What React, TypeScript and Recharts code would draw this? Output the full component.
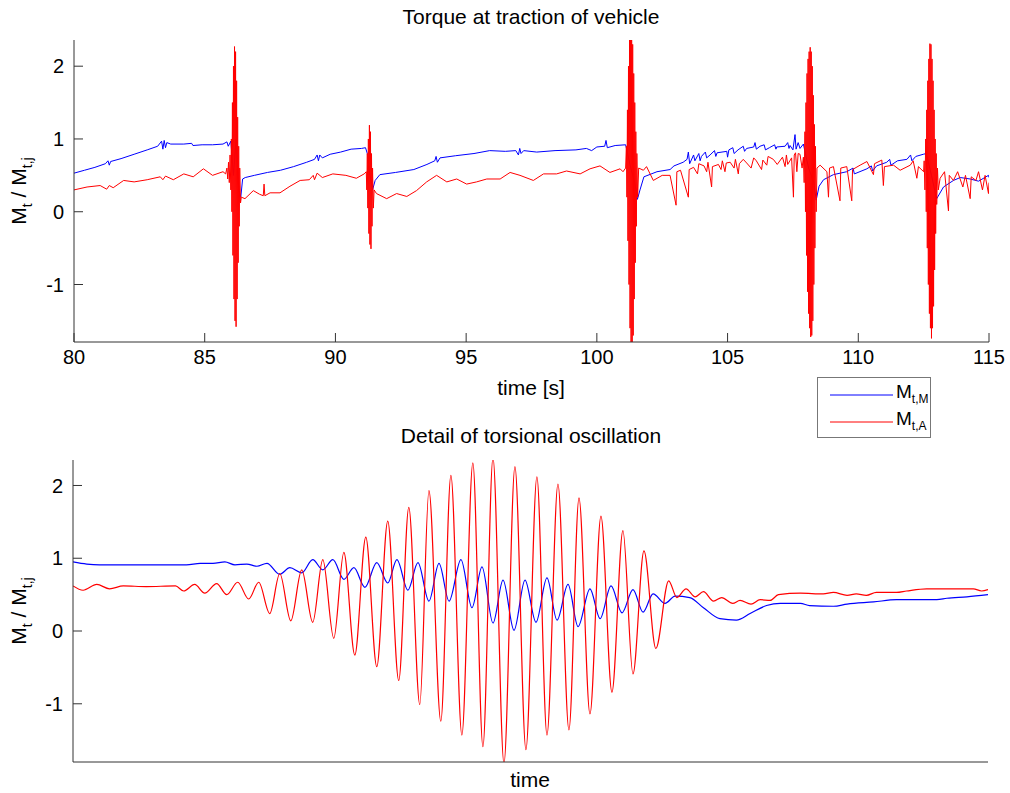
import React from 'react';
import { LineChart, Line, XAxis, YAxis } from 'recharts';

// [time in s, Mt / Mt,j]
const topMotor: [number, number][] = [
  [80.0, 0.53], [80.4, 0.57], [80.8, 0.61], [81.2, 0.66], [81.3, 0.7], [81.35, 0.64], [81.4, 0.69],
  [81.8, 0.73], [82.3, 0.79], [82.8, 0.85], [83.2, 0.9], [83.35, 0.97], [83.4, 0.86], [83.45, 0.98],
  [83.5, 0.88], [83.55, 0.95], [83.7, 0.93], [84.2, 0.93], [84.5, 0.94], [84.55, 0.91], [84.9, 0.92],
  [85.3, 0.92], [85.7, 0.93], [85.85, 0.96], [85.9, 0.9], [86.0, 0.97], [86.1, 0.5], [86.2, 1.0],
  [86.3, 0.3], [86.38, 0.2], [86.45, 0.45], [86.55, 0.47], [86.9, 0.5], [87.4, 0.54], [87.9, 0.57],
  [88.4, 0.62], [88.9, 0.68], [89.2, 0.72], [89.3, 0.78], [89.35, 0.7], [89.4, 0.78], [89.5, 0.74],
  [89.8, 0.79], [90.2, 0.82], [90.6, 0.86], [91.0, 0.87], [91.15, 0.88], [91.22, 0.8], [91.32, 0.5],
  [91.42, 0.3], [91.52, 0.43], [91.7, 0.51], [92.3, 0.54], [93.0, 0.58], [93.5, 0.65], [93.8, 0.7],
  [93.85, 0.76], [93.9, 0.68], [94.0, 0.74], [94.6, 0.77], [95.3, 0.8], [95.9, 0.84], [96.5, 0.83],
  [96.9, 0.84], [97.0, 0.78], [97.05, 0.87], [97.1, 0.8], [97.2, 0.84], [97.7, 0.82], [98.4, 0.84],
  [99.2, 0.85], [99.6, 0.87], [99.8, 0.84], [100.0, 0.89], [100.3, 0.9], [100.35, 0.98], [100.4, 0.88],
  [100.7, 0.91], [101.1, 0.92], [101.3, 0.6], [101.45, 0.4], [101.55, 0.17], [101.65, 0.3], [101.8, 0.48],
  [102.3, 0.55], [102.8, 0.58], [102.95, 0.63], [103.3, 0.68], [103.45, 0.72], [103.5, 0.82], [103.55, 0.66],
  [103.7, 0.78], [103.75, 0.7], [103.9, 0.8], [103.95, 0.7], [104.0, 0.76], [104.15, 0.82], [104.2, 0.74],
  [104.33, 0.78], [104.5, 0.84], [104.55, 0.76], [104.6, 0.81], [104.97, 0.83], [105.0, 0.75], [105.05, 0.85],
  [105.2, 0.88], [105.25, 0.8], [105.4, 0.85], [105.6, 0.9], [105.65, 0.83], [105.73, 0.87], [106.0, 0.89],
  [106.05, 0.95], [106.1, 0.86], [106.24, 0.9], [106.4, 0.92], [106.45, 0.85], [106.6, 0.88], [106.8, 0.92],
  [106.85, 0.86], [106.88, 0.89], [107.2, 0.9], [107.3, 0.95], [107.35, 0.87], [107.39, 0.91], [107.5, 0.85],
  [107.58, 1.06], [107.62, 0.86], [107.7, 0.95], [107.77, 0.87], [107.9, 0.93], [108.1, 0.6], [108.3, 0.4],
  [108.39, 0.16], [108.5, 0.35], [108.67, 0.44], [109.05, 0.51], [109.56, 0.55], [109.8, 0.6], [109.85, 0.52],
  [110.33, 0.59], [110.5, 0.63], [110.55, 0.56], [110.7, 0.63], [111.09, 0.68], [111.2, 0.72], [111.25, 0.64],
  [111.5, 0.7], [111.86, 0.72], [112.0, 0.78], [112.05, 0.7], [112.2, 0.76], [112.49, 0.79], [112.6, 0.8],
  [112.8, 0.5], [112.95, 0.25], [113.0, 0.18], [113.26, 0.34], [113.64, 0.43], [113.9, 0.47], [114.28, 0.45],
  [114.6, 0.42], [114.98, 0.5], [115.0, 0.47],
];

const topAxle: [number, number][] = [
  [80.0, 0.3], [80.5, 0.34], [81.0, 0.36], [81.25, 0.31], [81.35, 0.36], [81.5, 0.33], [81.9, 0.43],
  [82.3, 0.41], [82.8, 0.44], [83.3, 0.48], [83.4, 0.44], [83.5, 0.49], [83.8, 0.44], [84.2, 0.52],
  [84.56, 0.48], [84.95, 0.59], [85.3, 0.5], [85.7, 0.55],
  // burst near 86 s
  [85.8, 0.52], [85.85, 0.6], [85.88, 0.45], [85.91, 0.68], [85.94, 0.4], [85.97, 0.78], [86.0, 0.3],
  [86.02, 1.0], [86.04, 0.0], [86.06, 1.5], [86.08, -0.6], [86.1, 2.0], [86.12, -1.2], [86.14, 2.27],
  [86.16, -1.5], [86.18, 2.2], [86.2, -1.58], [86.22, 1.8], [86.24, -1.2], [86.26, 1.3], [86.28, -0.7],
  [86.3, 0.9], [86.32, -0.2], [86.34, 0.6], [86.37, 0.12], [86.4, 0.2],
  [86.54, 0.18], [86.86, 0.29], [87.1, 0.24], [87.24, 0.22], [87.27, 0.38], [87.3, 0.22], [87.5, 0.26],
  [87.88, 0.26], [88.26, 0.35], [88.65, 0.43], [89.0, 0.44], [89.15, 0.5], [89.2, 0.44], [89.3, 0.53],
  [89.5, 0.47], [89.9, 0.52], [90.4, 0.5], [90.8, 0.46], [91.1, 0.52],
  // burst near 91.3 s
  [91.18, 0.55], [91.2, 0.3], [91.22, 0.8], [91.24, 0.05], [91.26, 1.0], [91.28, -0.3], [91.3, 1.19],
  [91.32, -0.45], [91.34, 1.1], [91.36, -0.51], [91.38, 0.8], [91.4, -0.2], [91.42, 0.6], [91.45, 0.05],
  [91.48, 0.3],
  [91.57, 0.25], [91.96, 0.18], [92.34, 0.25], [92.73, 0.21], [93.1, 0.29], [93.49, 0.41], [93.87, 0.5],
  [94.26, 0.41], [94.64, 0.45], [95.02, 0.38], [95.4, 0.41], [95.79, 0.45], [96.3, 0.45], [96.68, 0.54],
  [97.06, 0.5], [97.57, 0.43], [97.96, 0.52], [98.46, 0.52], [98.84, 0.56], [99.36, 0.52], [99.74, 0.59],
  [100.12, 0.63], [100.5, 0.54], [100.89, 0.59], [101.0, 0.55],
  // burst near 101.3 s
  [101.1, 0.6], [101.13, 0.9], [101.15, 0.2], [101.17, 1.4], [101.19, -0.4], [101.21, 2.0], [101.23, -1.0],
  [101.25, 2.4], [101.27, -1.6], [101.29, 2.5], [101.31, -1.9], [101.33, 2.5], [101.35, -1.9], [101.37, 2.3],
  [101.39, -1.7], [101.41, 1.9], [101.43, -1.2], [101.45, 1.5], [101.47, -0.7], [101.49, 1.1], [101.51, -0.2],
  [101.53, 0.8], [101.56, 0.2], [101.6, 0.6],
  [101.78, 0.57], [101.9, 0.62], [102.16, 0.43], [102.5, 0.5], [102.8, 0.5], [103.03, 0.09], [103.06, 0.55],
  [103.2, 0.57], [103.5, 0.2], [103.53, 0.58], [103.7, 0.61], [103.85, 0.52], [103.9, 0.66], [104.1, 0.63],
  [104.2, 0.55], [104.25, 0.68], [104.39, 0.34], [104.42, 0.62], [104.65, 0.65], [104.75, 0.58], [104.8, 0.7],
  [104.9, 0.55], [104.95, 0.67], [105.1, 0.68], [105.25, 0.6], [105.3, 0.72], [105.41, 0.52], [105.45, 0.66],
  [105.6, 0.72], [105.73, 0.67], [105.9, 0.6], [106.0, 0.74], [106.1, 0.7], [106.3, 0.58], [106.35, 0.71],
  [106.5, 0.64], [106.55, 0.76], [106.75, 0.72], [106.9, 0.65], [107.1, 0.75], [107.2, 0.62], [107.25, 0.78],
  [107.3, 0.65], [107.45, 0.74], [107.52, 0.2], [107.55, 0.78], [107.6, 0.81], [107.65, 0.55], [107.7, 0.8],
  [107.77, 0.79], [107.85, 0.6],
  // burst near 108.2 s
  [107.9, 0.75], [107.93, 0.4], [107.96, 1.1], [107.98, 0.0], [108.0, 1.5], [108.02, -0.6], [108.04, 1.9],
  [108.06, -1.1], [108.08, 2.1], [108.1, -1.4], [108.12, 2.2], [108.14, -1.6], [108.16, 2.26], [108.18, -1.72],
  [108.2, 2.2], [108.22, -1.7], [108.24, 2.0], [108.26, -1.5], [108.28, 1.6], [108.3, -1.0], [108.32, 1.2],
  [108.34, -0.5], [108.36, 0.9], [108.39, 0.0], [108.42, 0.6],
  [108.54, 0.64], [108.8, 0.55], [108.86, 0.2], [108.9, 0.6], [109.05, 0.62], [109.3, 0.15], [109.33, 0.6],
  [109.56, 0.62], [109.75, 0.15], [109.78, 0.58], [110.07, 0.64], [110.33, 0.69], [110.58, 0.51], [110.62, 0.66],
  [110.9, 0.71], [110.96, 0.36], [111.0, 0.62], [111.35, 0.64], [111.6, 0.57], [111.99, 0.64], [112.1, 0.7],
  [112.24, 0.46], [112.3, 0.62], [112.5, 0.55],
  // burst near 112.8 s
  [112.52, 0.7], [112.55, 0.3], [112.58, 1.0], [112.6, 0.0], [112.62, 1.4], [112.64, -0.5], [112.66, 1.8],
  [112.68, -1.0], [112.7, 2.1], [112.72, -1.4], [112.74, 2.31], [112.76, -1.6], [112.78, 2.3], [112.8, -1.74],
  [112.82, 2.1], [112.84, -1.6], [112.86, 1.8], [112.88, -1.3], [112.9, 1.4], [112.92, -0.8], [112.94, 1.0],
  [112.96, -0.3], [112.98, 0.8], [113.0, 0.1], [113.03, 0.6], [113.06, 0.3],
  [113.13, 0.46], [113.3, 0.55], [113.45, 0.01], [113.48, 0.5], [113.64, 0.43], [113.8, 0.55], [114.0, 0.34],
  [114.1, 0.5], [114.28, 0.18], [114.32, 0.48], [114.5, 0.43], [114.6, 0.55], [114.75, 0.3], [114.85, 0.5],
  [114.98, 0.25], [115.0, 0.4],
];

// lower plot: arbitrary time units 0..100, peaks and troughs
const detailMotor: [number, number][] = [
  [0, 0.95], [1.5, 0.92], [2.9, 0.91], [12.4, 0.91], [13.9, 0.93], [15.3, 0.93], [16.6, 0.95], [17.7, 0.91],
  [19.0, 0.92], [20.1, 0.89], [21.2, 0.93], [22.6, 0.78], [23.7, 0.87], [25.0, 0.8], [26.2, 0.98], [27.3, 0.84],
  [28.4, 0.98], [29.6, 0.71], [30.7, 0.87], [31.9, 0.6], [33.2, 0.94], [34.4, 0.66], [35.4, 0.98], [36.6, 0.56],
  [37.7, 0.94], [38.9, 0.41], [40.0, 0.93], [41.1, 0.41], [42.4, 0.98], [43.6, 0.32], [44.7, 0.88], [45.9, 0.11],
  [47.0, 0.7], [48.2, 0.01], [49.4, 0.7], [50.6, 0.12], [51.8, 0.73], [52.9, 0.15], [54.1, 0.64], [55.2, 0.06],
  [56.5, 0.58], [57.6, 0.17], [58.8, 0.62], [60.0, 0.25], [61.2, 0.57], [62.3, 0.26], [63.4, 0.51], [64.7, 0.38],
  [65.8, 0.48], [67.4, 0.46], [68.9, 0.32], [70.7, 0.17], [72.5, 0.15], [74.0, 0.24], [75.8, 0.35], [77.3, 0.38],
  [79.5, 0.38], [80.5, 0.35], [83.1, 0.34], [84.6, 0.37], [87.5, 0.4], [90.0, 0.43], [94.4, 0.43], [95.5, 0.45],
  [97.7, 0.47], [100, 0.5],
];

const detailAxle: [number, number][] = [
  [0, 0.62], [1.1, 0.56], [2.6, 0.64], [4.0, 0.58], [5.5, 0.62], [8.0, 0.61], [11.2, 0.62], [12.1, 0.55],
  [13.3, 0.64], [14.4, 0.52], [15.7, 0.65], [16.8, 0.5], [18.0, 0.67], [19.2, 0.44], [20.3, 0.67], [21.5, 0.24],
  [22.6, 0.79], [23.8, 0.14], [25.0, 0.84], [26.2, 0.12], [27.3, 0.98], [28.5, -0.1], [29.6, 1.08], [30.8, -0.33],
  [32.0, 1.29], [33.2, -0.49], [34.4, 1.51], [35.6, -0.68], [36.7, 1.7], [37.9, -1.01], [38.9, 1.93], [40.2, -1.24],
  [41.3, 2.14], [42.5, -1.43], [43.7, 2.31], [44.8, -1.59], [45.9, 2.38], [47.1, -1.82], [48.3, 2.26], [49.5, -1.63],
  [50.7, 2.12], [51.8, -1.43], [53.0, 2.02], [54.2, -1.36], [55.3, 1.83], [56.5, -1.14], [57.7, 1.58], [58.9, -0.84],
  [60.1, 1.38], [61.2, -0.59], [62.4, 1.1], [63.7, -0.24], [65.1, 0.69], [66.0, 0.46], [67.0, 0.58], [68.0, 0.47],
  [68.9, 0.54], [70.0, 0.41], [70.9, 0.46], [72.1, 0.38], [72.9, 0.42], [74.1, 0.37], [75.1, 0.43], [76.2, 0.42],
  [77.1, 0.5], [79.5, 0.52], [82.0, 0.51], [83.1, 0.53], [84.6, 0.49], [85.6, 0.51], [86.7, 0.49], [87.8, 0.53],
  [90.0, 0.53], [91.1, 0.55], [93.3, 0.58], [95.5, 0.58], [97.0, 0.58], [98.4, 0.58], [99.3, 0.55], [100, 0.57],
];

const timeTicks = [80, 85, 90, 95, 100, 105, 110, 115];
const torqueTicks = [-1, 0, 1, 2];
const legendItems = [
  { sub: 't,M', color: '#0000ff' },
  { sub: 't,A', color: '#ff0000' },
];

const toRows = (pts: [number, number][]) => pts.map(([t, v]) => ({ t, v }));

const FONT = '"Liberation Sans", Arial, sans-serif';
const FRAME = '#333';
const TICK_LEN = 9;
const LEFT_GAP = 10;
const BOTTOM_GAP = 8;

// MATLAB style: tick marks point into the plot, so they are drawn here with the label
const LeftTick = (props: any) => {
  const { x, y, payload } = props;
  const edge = x + LEFT_GAP;
  return (
    <g>
      <line x1={edge} x2={edge + TICK_LEN} y1={y} y2={y} stroke={FRAME} />
      <text x={x} y={y} dy="0.355em" textAnchor="end" fontSize={20} fontFamily={FONT} fill="#000">
        {payload.value}
      </text>
    </g>
  );
};

const BottomTick = (props: any) => {
  const { x, y, payload } = props;
  const edge = y - BOTTOM_GAP;
  return (
    <g>
      <line x1={x} x2={x} y1={edge} y2={edge - TICK_LEN} stroke={FRAME} />
      <text x={x} y={y} dy="0.71em" textAnchor="middle" fontSize={20} fontFamily={FONT} fill="#000">
        {payload.value}
      </text>
    </g>
  );
};

const RightTick = (props: any) => {
  const { x, y } = props;
  return <line x1={x - TICK_LEN} x2={x} y1={y} y2={y} stroke={FRAME} />;
};

const TopTick = (props: any) => {
  const { x, y } = props;
  return <line x1={x} x2={x} y1={y} y2={y + TICK_LEN} stroke={FRAME} />;
};

function Caption({ x, y, children, size = 20 }: { x: number; y: number; children: React.ReactNode; size?: number }) {
  return (
    <div
      style={{
        position: 'absolute',
        left: x - 200,
        top: y - 12,
        width: 400,
        lineHeight: '24px',
        textAlign: 'center',
        fontSize: size,
        whiteSpace: 'nowrap',
      }}
    >
      {children}
    </div>
  );
}

function YLabel({ y }: { y: number }) {
  return (
    <div
      style={{
        position: 'absolute',
        left: 23,
        top: y,
        transform: 'translate(-50%, -50%) rotate(-90deg)',
        fontSize: 21,
        whiteSpace: 'nowrap',
        lineHeight: '24px',
      }}
    >
      M<sub style={{ fontSize: 14 }}>t</sub> / M<sub style={{ fontSize: 14 }}>t,j</sub>
    </div>
  );
}

export default function App() {
  const yDomain: [number, number] = [-1.79, 2.36];
  const yDomainDetail: [number, number] = [-1.8, 2.35];

  return (
    <div
      style={{
        position: 'absolute',
        left: 0,
        top: 0,
        width: 1010,
        height: 793,
        background: '#fff',
        fontFamily: FONT,
        color: '#000',
      }}
    >
      {/* upper plot */}
      <div style={{ position: 'absolute', left: 0, top: 0 }}>
        <LineChart width={1010} height={400} margin={{ top: 40, right: 21, left: 0, bottom: 0 }}>
          <XAxis
            dataKey="t"
            type="number"
            domain={[80, 115]}
            ticks={timeTicks}
            allowDataOverflow
            height={58}
            stroke={FRAME}
            tickLine={false}
            tickSize={0}
            tickMargin={BOTTOM_GAP}
            tick={BottomTick}
          />
          <XAxis
            xAxisId="top"
            orientation="top"
            dataKey="t"
            type="number"
            domain={[80, 115]}
            ticks={timeTicks}
            height={0}
            stroke={FRAME}
            tickLine={false}
            tickSize={0}
            tickMargin={0}
            tick={TopTick}
          />
          <YAxis
            type="number"
            domain={yDomain}
            ticks={torqueTicks}
            allowDataOverflow
            width={74}
            stroke={FRAME}
            tickLine={false}
            tickSize={0}
            tickMargin={LEFT_GAP}
            tick={LeftTick}
          />
          <YAxis
            yAxisId="right"
            orientation="right"
            type="number"
            domain={yDomain}
            ticks={torqueTicks}
            allowDataOverflow
            width={0}
            stroke={FRAME}
            tickLine={false}
            tickSize={0}
            tickMargin={0}
            tick={RightTick}
          />
          <Line data={toRows(topMotor)} dataKey="v" type="linear" stroke="#0000ff" strokeWidth={1} dot={false} isAnimationActive={false} />
          <Line data={toRows(topAxle)} dataKey="v" type="linear" stroke="#ff0000" strokeWidth={1} dot={false} isAnimationActive={false} />
        </LineChart>
      </div>

      {/* lower plot */}
      <div style={{ position: 'absolute', left: 0, top: 420 }}>
        <LineChart width={1010} height={373} margin={{ top: 40, right: 22, left: 0, bottom: 0 }}>
          <XAxis dataKey="t" type="number" domain={[0, 100]} allowDataOverflow height={31} stroke={FRAME} tick={false} tickLine={false} />
          <XAxis xAxisId="top" orientation="top" dataKey="t" type="number" domain={[0, 100]} height={0} stroke={FRAME} tick={false} tickLine={false} />
          <YAxis
            type="number"
            domain={yDomainDetail}
            ticks={torqueTicks}
            allowDataOverflow
            width={73}
            stroke={FRAME}
            tickLine={false}
            tickSize={0}
            tickMargin={LEFT_GAP}
            tick={LeftTick}
          />
          <YAxis
            yAxisId="right"
            orientation="right"
            type="number"
            domain={yDomainDetail}
            ticks={torqueTicks}
            allowDataOverflow
            width={0}
            stroke={FRAME}
            tickLine={false}
            tickSize={0}
            tickMargin={0}
            tick={RightTick}
          />
          <Line data={toRows(detailMotor)} dataKey="v" type="monotone" stroke="#0000ff" strokeWidth={1.2} dot={false} isAnimationActive={false} />
          <Line data={toRows(detailAxle)} dataKey="v" type="monotone" stroke="#ff0000" strokeWidth={1.2} dot={false} isAnimationActive={false} />
        </LineChart>
      </div>

      <Caption x={531} y={17} size={21}>Torque at traction of vehicle</Caption>
      <Caption x={531} y={388} size={21}>time [s]</Caption>
      <Caption x={531} y={436} size={21}>Detail of torsional oscillation</Caption>
      <Caption x={530} y={780} size={21}>time</Caption>
      <YLabel y={191} />
      <YLabel y={611} />

      {/* legend */}
      <div
        style={{
          position: 'absolute',
          left: 817,
          top: 377,
          width: 114,
          height: 61,
          border: '1px solid #777',
          boxSizing: 'border-box',
          background: '#fff',
        }}
      >
        {legendItems.map((it, i) => (
          <div key={it.sub} style={{ position: 'absolute', left: 0, top: 6 + i * 27, height: 22, display: 'flex', alignItems: 'center' }}>
            <svg width={78} height={22}>
              <line x1={12} x2={75} y1={11} y2={11} stroke={it.color} strokeWidth={1} />
            </svg>
            <span style={{ fontSize: 19, lineHeight: '22px' }}>
              M<sub style={{ fontSize: 12 }}>{it.sub}</sub>
            </span>
          </div>
        ))}
      </div>
    </div>
  );
}
